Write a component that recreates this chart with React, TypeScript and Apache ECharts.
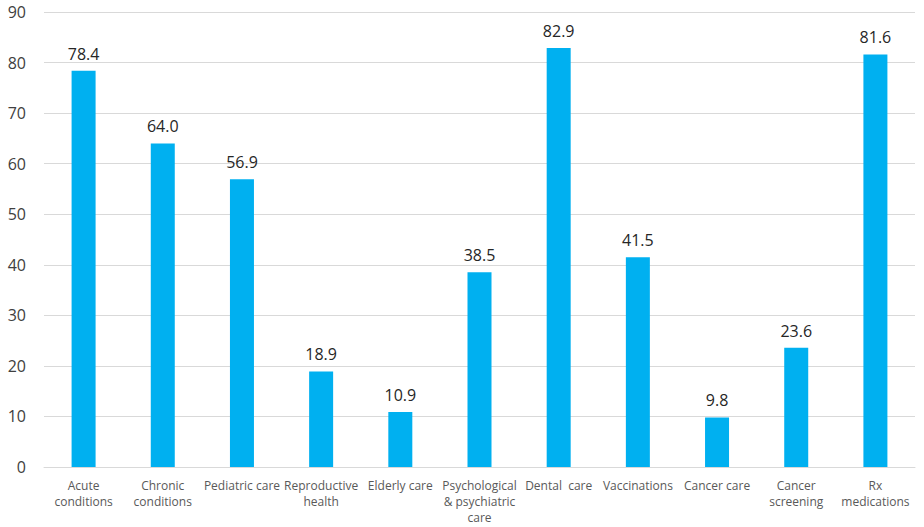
import React, { useEffect, useRef } from "react";
import * as echarts from "echarts";

const categories = [
  "Acute\nconditions",
  "Chronic\nconditions",
  "Pediatric care",
  "Reproductive\nhealth",
  "Elderly care",
  "Psychological\n& psychiatric\ncare",
  "Dental  care",
  "Vaccinations",
  "Cancer care",
  "Cancer\nscreening",
  "Rx\nmedications",
];
const values = [78.4, 64.0, 56.9, 18.9, 10.9, 38.5, 82.9, 41.5, 9.8, 23.6, 81.6];

export default function App() {
  const ref = useRef<HTMLDivElement>(null);
  useEffect(() => {
    document.body.style.margin = "0";
    const chart = echarts.init(ref.current!, null, { renderer: "svg" });
    chart.setOption({
      animation: false,
      grid: { left: 44, right: 9, top: 12, bottom: 60 },
      xAxis: {
        type: "category",
        data: categories,
        axisTick: { show: false },
        axisLine: { lineStyle: { color: "#d9d9d9", width: 1 } },
        axisLabel: {
          interval: 0,
          color: "#595959",
          fontSize: 12,
          lineHeight: 16,
          margin: 10,
          fontFamily: "Open Sans",
        },
      },
      yAxis: {
        type: "value",
        min: 0,
        max: 90,
        interval: 10,
        axisLine: { show: false },
        axisTick: { show: false },
        splitLine: { lineStyle: { color: "#d9d9d9", width: 1 } },
        axisLabel: {
          color: "#404040",
          fontSize: 16,
          margin: 18,
          fontFamily: "Open Sans",
        },
      },
      series: [
        {
          type: "bar",
          data: values,
          barWidth: 24,
          itemStyle: { color: "#00B0F0" },
          label: {
            show: true,
            position: "top",
            distance: 9,
            color: "#262626",
            fontSize: 16,
            fontFamily: "Open Sans",
            formatter: (p: any) => Number(p.value).toFixed(1),
          },
        },
      ],
    });
    return () => chart.dispose();
  }, []);
  return <div ref={ref} style={{ width: 924, height: 527 }} />;
}
